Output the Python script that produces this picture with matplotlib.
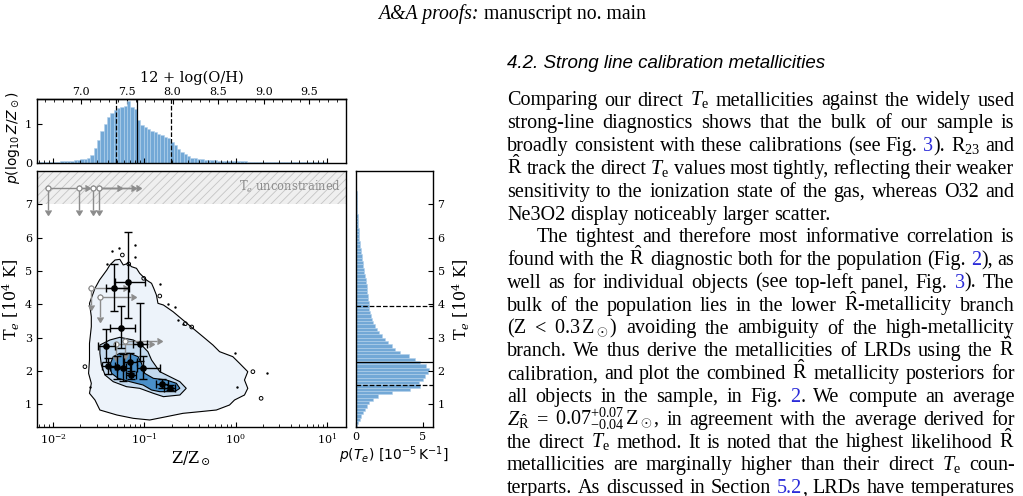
import numpy as np
import matplotlib
matplotlib.use("Agg")
import matplotlib.pyplot as plt
from matplotlib.ticker import MultipleLocator, FixedLocator, LogLocator, NullFormatter, FormatStrFormatter
import matplotlib.transforms as mtransforms

# ---------------- data ----------------
# top histogram: p(log10 Z/Zsun), bins in 12+log(O/H)
oh_start = 6.515
oh_width = 0.0365
oh_hist = [0.01, 0.01, 0.015, 0.02, 0.02, 0.025, 0.03, 0.035, 0.045, 0.05,
           0.055, 0.065, 0.075, 0.085, 0.10, 0.13, 0.20, 0.38, 0.60, 0.82,
           1.00, 1.20, 1.30, 1.38, 1.43, 1.46, 1.47, 1.60, 1.46, 1.40,
           1.12, 0.98, 0.93, 0.88, 0.83, 0.79, 0.74, 0.71, 0.68, 0.63,
           0.54, 0.45, 0.36, 0.29, 0.22, 0.17, 0.13, 0.11, 0.10, 0.085,
           0.075, 0.07, 0.065, 0.06, 0.055, 0.05, 0.05, 0.045, 0.045, 0.04,
           0.04, 0.035, 0.035, 0.03, 0.03, 0.03, 0.03, 0.025, 0.025, 0.025,
           0.02, 0.02, 0.02, 0.02, 0.02, 0.02, 0.015, 0.015, 0.015, 0.015,
           0.01, 0.01, 0.01, 0.01, 0.01, 0.01, 0.01]
oh_lines = [7.375, 7.61, 7.98]          # 16th, median, 84th
oh_line_styles = ["--", "-", "--"]
oh_ticks = [7.0, 7.5, 8.0, 8.5, 9.0, 9.5]
solar_oh = 8.69

# right histogram: p(Te) [1e-5 K^-1], Te bins in 1e4 K
te_start = 0.3
te_width = 0.1
te_hist = [0.12, 0.20, 0.32, 0.42, 0.57, 0.70, 0.82, 1.02, 1.32, 1.70,
           2.70, 4.05, 4.80, 4.70, 5.00, 5.20, 5.40, 5.50, 5.25, 4.80,
           4.45, 3.95, 3.30, 2.95, 2.70, 2.40, 2.20, 1.95, 1.75, 1.57,
           1.42, 1.27, 1.20, 1.12, 1.07, 1.02, 1.00, 0.97, 0.95, 0.92,
           0.87, 0.85, 0.82, 0.77, 0.75, 0.70, 0.65, 0.62, 0.57, 0.52,
           0.47, 0.45, 0.40, 0.37, 0.32, 0.30, 0.27, 0.25, 0.23, 0.21,
           0.19, 0.17, 0.15, 0.14, 0.12, 0.11, 0.10, 0.09, 0.08, 0.07,
           0.06, 0.05, 0.05, 0.04, 0.04, 0.03, 0.03]
te_lines = [2.28, 3.96, 1.58]
te_line_styles = ["-", "--", "--"]

# measured objects (black): log10 Z/Zsun, Te, and their 1-sigma ranges
obj_logz = [-1.333, -1.18, -1.26, -1.049, -1.424, -1.396, -1.304, -1.232, -1.158, -1.147, -1.013, -0.805, -0.721]
obj_logz_lo = [-1.42, -1.322, -1.377, -1.12, -1.505, -1.46, -1.38, -1.30, -1.22, -1.20, -1.08, -0.87, -0.78]
obj_logz_hi = [-1.169, -0.995, -1.104, -0.97, -1.322, -1.32, -1.20, -1.15, -1.08, -1.09, -0.83, -0.74, -0.66]
obj_te = [4.48, 4.68, 3.28, 2.80, 2.75, 2.15, 2.13, 2.10, 2.28, 1.88, 2.10, 1.61, 1.50]
obj_te_lo = [3.81, 3.58, 2.70, 2.30, 2.28, 1.90, 1.75, 1.70, 1.95, 1.75, 1.75, 1.50, 1.42]
obj_te_hi = [5.20, 6.17, 3.95, 4.04, 3.25, 2.40, 2.45, 2.50, 2.55, 2.00, 2.45, 1.75, 1.58]

# limits (grey): lower limit in Z, upper limit in Te
lim_logz = [-2.05, -1.72, -1.56, -1.50, -1.588, -1.486, -1.311, -1.213]
lim_logz_to = [-1.65, -1.30, -1.14, -1.09, -1.23, -1.14, -0.95, -0.86]
lim_te = [7.5, 7.5, 7.5, 7.5, 4.48, 4.21, 2.80, 2.90]
lim_te_to = [6.83, 6.83, 6.83, 6.83, 3.98, 3.63, 2.45, 2.52]

# population density contours (log10 Z/Zsun, Te)
outer_logz = [-1.58, -1.60, -1.54, -1.49, -1.41, -1.377, -1.32, -1.268, -1.23, -1.177, -1.14, -1.085,
              -1.05, -0.976, -0.92, -0.896, -0.867, -0.85, -0.79, -0.685, -0.576, -0.467, -0.357,
              -0.248, -0.175, -0.03, 0.044, 0.134, 0.098, 0.134, 0.098, -0.011, -0.066, -0.21,
              -0.39, -0.576, -0.757, -0.94, -1.12, -1.30, -1.486, -1.54, -1.60, -1.58, -1.61,
              -1.60, -1.60, -1.58]
outer_te = [3.63, 4.03, 4.48, 4.73, 5.03, 5.18, 5.33, 5.35, 5.18, 5.23, 5.13, 5.08,
            4.93, 4.73, 4.63, 4.48, 4.28, 4.03, 3.98, 3.78, 3.53, 3.28, 3.03,
            2.78, 2.58, 2.43, 2.23, 1.98, 1.73, 1.48, 1.28, 1.13, 0.98, 0.83,
            0.78, 0.73, 0.63, 0.53, 0.58, 0.68, 0.83, 1.13, 1.33, 1.63, 1.93,
            2.33, 2.83, 3.33]
middle_logz = [-1.486, -1.377, -1.268, -1.12, -1.03, -0.96, -0.92, -0.83, -0.72, -0.61, -0.54,
               -0.61, -0.79, -0.90, -1.05, -1.195, -1.34, -1.43, -1.47, -1.486]
middle_te = [2.78, 2.93, 3.01, 2.93, 2.78, 2.58, 2.33, 1.98, 1.83, 1.68, 1.48,
             1.28, 1.23, 1.33, 1.48, 1.53, 1.68, 1.88, 2.18, 2.53]
inner_logz = [-1.34, -1.268, -1.158, -1.068, -1.03, -0.995, -0.90, -0.757, -0.648, -0.61, -0.667,
              -0.83, -0.92, -1.013, -1.158, -1.286, -1.358, -1.377]
inner_te = [2.43, 2.53, 2.53, 2.43, 2.23, 1.93, 1.78, 1.73, 1.63, 1.48, 1.38,
            1.38, 1.43, 1.58, 1.68, 1.78, 1.93, 2.18]

# isolated density specks outside the outer contour
speck_logz = [-1.35, -1.275, -1.10, -1.10, -1.41, -0.83, -0.74, -0.66, -0.63, -0.58, -0.01, 0.35, 0.02, -1.59]
speck_te = [5.60, 5.68, 5.78, 5.41, 5.20, 4.61, 4.00, 3.93, 3.53, 3.41, 2.53, 1.93, 1.53, 1.51]
loop_logz = [-1.24, -1.17, -1.006, -0.83, -0.55, -0.48, 0.19, 0.28, -1.65]
loop_te = [5.48, 5.21, 4.78, 4.25, 3.42, 3.32, 1.98, 1.18, 2.13]

# ---------------- page text ----------------
header_italic = "A&A proofs:"
header_roman = " manuscript no. main"
section_title = "4.2. Strong line calibration metallicities"
para1 = [
    r"Comparing our direct $T_\mathrm{e}$ metallicities against the widely used",
    r"strong-line diagnostics shows that the bulk of our sample is",
    r"broadly consistent with these calibrations (see Fig. @3@). R$_{23}$ and",
    r"$\hat{\mathrm{R}}$ track the direct $T_\mathrm{e}$ values most tightly, reflecting their weaker",
    r"sensitivity to the ionization state of the gas, whereas O32 and",
    r"Ne3O2 display noticeably larger scatter.",
]
para2 = [
    r"The tightest and therefore most informative correlation is",
    r"found with the $\hat{\mathrm{R}}$ diagnostic both for the population (Fig. @2@), as",
    r"well as for individual objects (see top-left panel, Fig. @3@). The",
    r"bulk of the population lies in the lower $\hat{\mathrm{R}}$-metallicity branch",
    r"(Z < 0.3$\,\mathrm{Z}_\odot$) avoiding the ambiguity of the high-metallicity",
    r"branch. We thus derive the metallicities of LRDs using the $\hat{\mathrm{R}}$",
    r"calibration, and plot the combined $\hat{\mathrm{R}}$ metallicity posteriors for",
    r"all objects in the sample, in Fig. @2@. We compute an average",
    r"$Z_{\hat{\mathrm{R}}}$ = $0.07^{+0.07}_{-0.04}\,\mathrm{Z}_\odot$, in agreement with the average derived for",
    r"the direct $T_\mathrm{e}$ method. It is noted that the highest likelihood $\hat{\mathrm{R}}$",
    r"metallicities are marginally higher than their direct $T_\mathrm{e}$ coun-",
    r"terparts. As discussed in Section @5.2@, LRDs have temperatures",
]

# ---------------- style ----------------
plt.rcParams["font.family"] = "DejaVu Serif"
plt.rcParams["mathtext.fontset"] = "dejavuserif"
plt.rcParams["mathtext.rm"] = "Liberation Serif"
plt.rcParams["mathtext.it"] = "Liberation Serif:italic"
plt.rcParams["mathtext.bf"] = "Liberation Serif:bold"
plt.rcParams["axes.linewidth"] = 1.0
plt.rcParams["hatch.linewidth"] = 0.6

W, H = 1023, 496
fig = plt.figure(figsize=(W / 100, H / 100), dpi=100)

def fx(px):
    return px / W

def fy(py):
    return 1 - py / H

hist_face = (0.45, 0.66, 0.84)
hist_edge = (0.70, 0.82, 0.92)
grey = "#8c8c8c"

ax = fig.add_axes([fx(37), fy(427), fx(346) - fx(37), fy(171) - fy(427)])
ax.set_xscale("log")
axt = fig.add_axes([fx(37), fy(162.7), fx(346) - fx(37), fy(99.3) - fy(162.7)], sharex=ax)
axr = fig.add_axes([fx(355.7), fy(427), fx(432.7) - fx(355.7), fy(171) - fy(427)], sharey=ax)

# ---- main panel ----
ax.set_xlim(10 ** -2.175, 10 ** 1.21)
ax.set_ylim(0.32, 8.0)
ax.axhspan(7, 8, facecolor="#efefef", edgecolor="#c4c4c4", hatch="////", lw=0, zorder=0)
ax.text(0.984, 7.52, r"T$_e$ unconstrained", transform=mtransforms.blended_transform_factory(ax.transAxes, ax.transData),
        ha="right", va="center", color=grey, fontsize=8.3)

c_outer, c_mid, c_in = "#edf3fa", "#c4daef", "#4a8fc9"
for lz, te, fc in [(outer_logz, outer_te, c_outer), (middle_logz, middle_te, c_mid), (inner_logz, inner_te, c_in)]:
    zz = 10 ** np.array(lz)
    ax.fill(zz, te, facecolor=fc, edgecolor="black", lw=0.8, zorder=1)
ax.scatter(10 ** np.array(speck_logz), speck_te, s=3, color="black", zorder=2, lw=0)
ax.scatter(10 ** np.array(loop_logz), loop_te, s=7, facecolor="none", edgecolor="black", lw=0.7, zorder=2)

z = 10 ** np.array(obj_logz)
zerr = [z - 10 ** np.array(obj_logz_lo), 10 ** np.array(obj_logz_hi) - z]
terr = [np.array(obj_te) - np.array(obj_te_lo), np.array(obj_te_hi) - np.array(obj_te)]

zl = 10 ** np.array(lim_logz)
zlerr = 10 ** np.array(lim_logz_to) - zl
tlerr = np.array(lim_te) - np.array(lim_te_to)
ax.errorbar(zl, lim_te, xerr=zlerr, yerr=tlerr, xlolims=True, uplims=True, fmt="o", ms=3.6,
            color=grey, mfc="white", mec=grey, mew=0.9, ecolor=grey, elinewidth=1.0, capsize=2.5, zorder=3)
ax.errorbar(z, obj_te, xerr=zerr, yerr=terr, fmt="o", ms=3.8, color="black", ecolor="black",
            elinewidth=1.0, capsize=3.0, capthick=1.0, zorder=4)

ax.set_yticks([1, 2, 3, 4, 5, 6, 7])
ax.xaxis.set_major_locator(LogLocator(base=10, numticks=10))
ax.xaxis.set_minor_locator(LogLocator(base=10, subs=np.arange(2, 10), numticks=20))
ax.xaxis.set_minor_formatter(NullFormatter())
ax.tick_params(which="both", direction="in", labelsize=8)
ax.tick_params(which="major", length=3.5)
ax.tick_params(which="minor", length=2)
ax.set_xlabel(r"Z/Z$_\odot$", fontsize=11.5, labelpad=2)
ax.set_ylabel(r"T$_e$ [10$^4$ K]", fontsize=11.5)
ax.yaxis.set_label_coords(-0.05, 0.5)

# ---- top histogram ----
oh_edges = oh_start + oh_width * np.arange(len(oh_hist) + 1)
z_edges = 10 ** (oh_edges - solar_oh)
axt.bar(z_edges[:-1], oh_hist, width=np.diff(z_edges), align="edge", color=hist_face,
        edgecolor=hist_edge, lw=0.4)
for v, ls in zip(oh_lines, oh_line_styles):
    axt.axvline(10 ** (v - solar_oh), color="black", ls=ls, lw=0.9)
axt.set_ylim(0, 1.65)
axt.set_yticks([0, 1])
axt.tick_params(which="both", direction="in", labelsize=8, labelbottom=False)
axt.tick_params(which="major", length=3.5)
axt.tick_params(which="minor", length=2)
axt.set_ylabel(r"$p(\log_{10} Z/Z_\odot)$", fontsize=10, math_fontfamily="dejavusans")
axt.yaxis.set_label_coords(-0.05, 0.4)

sec = axt.secondary_xaxis("top", functions=(lambda v: np.log10(np.clip(v, 1e-30, None)) + solar_oh,
                                             lambda o: 10 ** (o - solar_oh)))
sec.xaxis.set_major_locator(FixedLocator(oh_ticks))
sec.xaxis.set_major_formatter(FormatStrFormatter("%.1f"))
sec.xaxis.set_minor_locator(MultipleLocator(0.1))
sec.xaxis.set_minor_formatter(NullFormatter())
sec.tick_params(which="both", direction="in", labelsize=8)
sec.tick_params(which="major", length=3.5, pad=2)
sec.tick_params(which="minor", length=2)
sec.set_xlabel("12 + log(O/H)", fontsize=10.5, labelpad=3)

# ---- right histogram ----
te_edges = te_start + te_width * np.arange(len(te_hist) + 1)
axr.barh(te_edges[:-1], te_hist, height=np.diff(te_edges), align="edge", color=hist_face,
         edgecolor=hist_edge, lw=0.4)
for v, ls in zip(te_lines, te_line_styles):
    axr.axhline(v, color="black", ls=ls, lw=0.9)
axr.set_xlim(0, 5.75)
axr.set_xticks([0, 5])
axr.yaxis.tick_right()
axr.yaxis.set_label_position("right")
axr.tick_params(which="both", direction="in", labelsize=8, labelleft=False, labelright=True)
axr.tick_params(which="major", length=3.5)
axr.set_ylabel(r"T$_e$ [10$^4$ K]", fontsize=11.5, labelpad=4)
axr.set_xlabel(r"$p(T_e)\ [10^{-5}\,\mathrm{K}^{-1}]$", fontsize=10, math_fontfamily="dejavusans", labelpad=2)

# ---------------- page text rendering ----------------
renderer = fig.canvas.get_renderer()
BODY = dict(family="Liberation Serif", fontsize=14.5, math_fontfamily="custom")
LINK = "#2b2bd9"

def text_width(s, **kw):
    t = fig.text(0, 0, s, **kw)
    w = t.get_window_extent(renderer).width
    t.remove()
    return w

def parse_word(word):
    parts = word.split("@")
    return [(p, LINK if i % 2 else "black") for i, p in enumerate(parts) if p]

space_w = text_width("a a", **BODY) - text_width("aa", **BODY)

def draw_line(line, x0, x1, ybase, justify=True):
    words = [parse_word(w) for w in line.split(" ")]
    seg_w = [[text_width(s, **BODY) for s, _ in w] for w in words]
    total = sum(sum(ws) for ws in seg_w)
    gap = (x1 - x0 - total) / (len(words) - 1) if (justify and len(words) > 1) else space_w
    x = x0
    for w, ws in zip(words, seg_w):
        for (s, col), sw in zip(w, ws):
            fig.text(fx(x), fy(ybase), s, color=col, ha="left", va="baseline", **BODY)
            x += sw
        x += gap

TX0, TX1 = 507.0, 1014.5
LEAD = 22.8
y0 = 105.5
for i, line in enumerate(para1):
    draw_line(line, TX0, TX1, y0 + i * LEAD, justify=(i < len(para1) - 1))
for j, line in enumerate(para2):
    k = len(para1) + j
    draw_line(line, TX0 + 30 if j == 0 else TX0, TX1, y0 + k * LEAD, justify=True)

fig.text(fx(507), fy(68), section_title, family="Liberation Sans", style="italic", fontsize=13.5,
         ha="left", va="baseline")

HSZ = 14.2
wi = text_width(header_italic, family="Liberation Serif", style="italic", fontsize=HSZ)
wr = text_width(header_roman, family="Liberation Serif", fontsize=HSZ)
hx = 512 - (wi + wr) / 2
fig.text(fx(hx), fy(19), header_italic, family="Liberation Serif", style="italic", fontsize=HSZ,
         ha="left", va="baseline")
fig.text(fx(hx + wi), fy(19), header_roman, family="Liberation Serif", fontsize=HSZ,
         ha="left", va="baseline")

fig.savefig("out.png", dpi=100)
